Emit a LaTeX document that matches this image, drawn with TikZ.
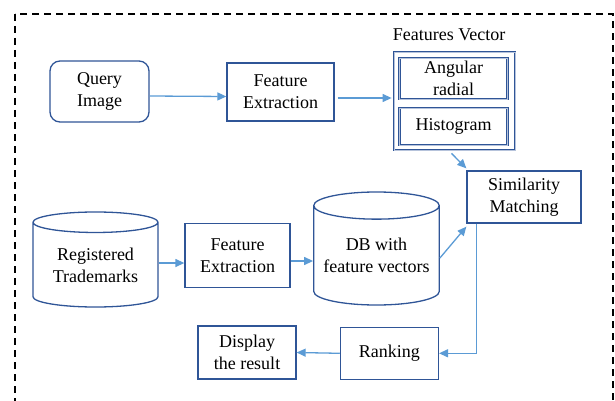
\documentclass[tikz,border=0pt]{standalone}
\usepackage{fontspec}
\setmainfont{Liberation Serif}
\usetikzlibrary{shapes.geometric,arrows.meta}
\definecolor{boxblue}{RGB}{47,85,151}
\definecolor{arrowblue}{RGB}{91,155,213}
\tikzset{
  blk/.style={draw=boxblue, line width=1.3pt, align=center, inner sep=0pt,
    font=\fontsize{18}{22}\selectfont},
  dblk/.style={blk, line width=0.8pt, double=boxblue!35, double distance=0.6pt},
  dbase/.style={blk, cylinder, shape border rotate=90, anchor=shape center},
  arr/.style={draw=arrowblue, line width=1.3pt, -{Triangle[length=9pt,width=8pt]}}
}
\begin{document}
\begin{tikzpicture}[x=1pt,y=-1pt]
    \useasboundingbox (0,0) rectangle (615,401);
    \draw [dash pattern=on 7pt off 5pt, line width=1.1pt] (15,14) rectangle (613,430);
    % top row
    \node [blk, rounded corners=10pt, minimum width=99, minimum height=61] (query) at (99.5,91.5) {Query\\Image};
    \node [blk, minimum width=107, minimum height=58] (fe1) at (280.5,92) {Feature\\Extraction};
    \node [dblk, minimum width=121, minimum height=98] (fv) at (454.5,101) {};
    \node [dblk, minimum width=108, minimum height=41] (ang) at (453.5,78.7) {Angular\\radial};
    \node [dblk, minimum width=108, minimum height=37] (histo) at (453.5,126.7) {Histogram};
    \node [font=\fontsize{18}{22}\selectfont] (fvlabel) at (449,35) {Features Vector};
    \node [blk, minimum width=114, minimum height=52] (sm) at (524,197) {Similarity\\Matching};
    % middle row
    \node [dbase, minimum width=125, minimum height=95, aspect=0.24] (reg) at (95.5,259.5) {Registered\\Trademarks};
    \node [blk, minimum width=105, minimum height=64] (fe2) at (237.5,255.3) {Feature\\Extraction};
    \node [dbase, minimum width=125.5, minimum height=113, aspect=0.255] (db) at (376.5,248.5) {DB with\\feature vectors};
    % bottom row
    \node [blk, minimum width=98, minimum height=52] (rank) at (389.4,353.3) {Ranking};
    \node [blk, minimum width=98, minimum height=53] (disp) at (247,352.5) {Display\\the result};
    % arrows
    \draw [arr] ([yshift=-4.5pt]query.east) -- ([yshift=-4.5pt]fe1.west);
    \draw [arr] ([xshift=3pt,yshift=-6pt]fe1.east) -- ([xshift=-2pt,yshift=-6pt]fv.west |- fe1.east);
    \draw [arr] ([xshift=-3pt,yshift=-3pt]fv.south) -- ([yshift=2pt]sm.north west);
    \draw [arr] (reg.east |- 0,263) -- (fe2.west |- 0,263);
    \draw [arr] (fe2.east |- 0,261) -- (db.west |- 0,261);
    \draw [arr] (db.east |- 0,258) -- ([yshift=-3pt]sm.south west);
    \draw [arr] ([xshift=-47.5pt]sm.south) |- (rank.east);
    \draw [arr] (rank.west) -- (disp.east);
\end{tikzpicture}
\end{document}
